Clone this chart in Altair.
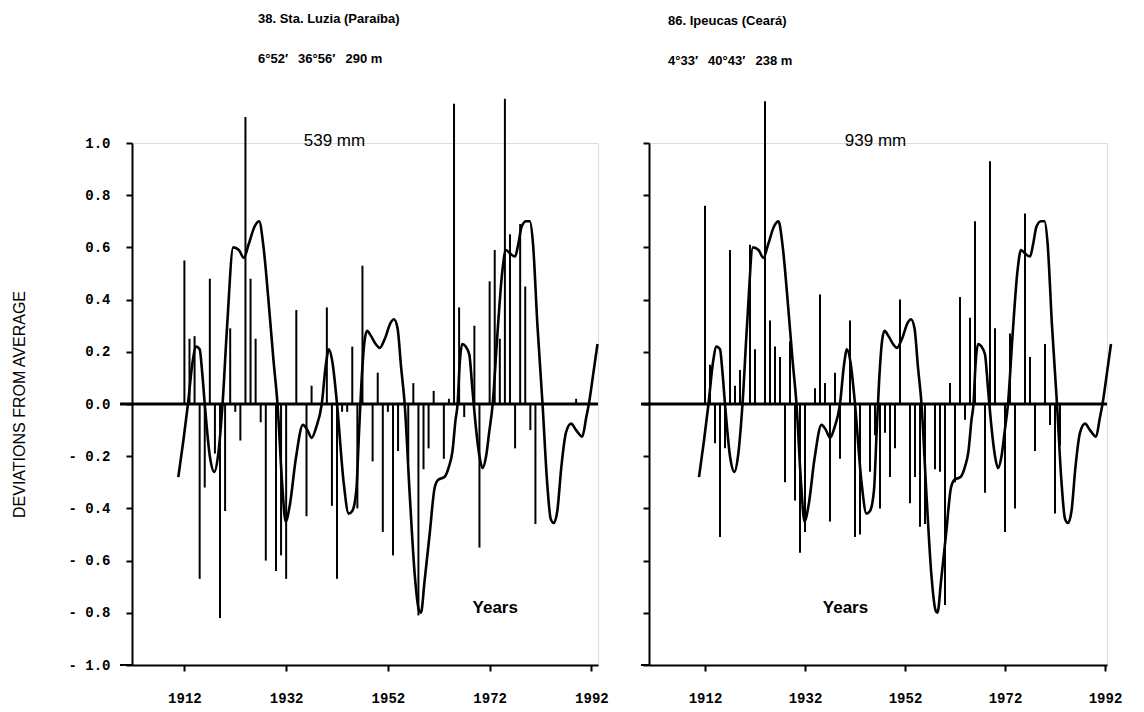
import altair as alt
import pandas as pd

# ---------------- data ----------------
luzia_years = [1912, 1913, 1914, 1915, 1916, 1917, 1918, 1919, 1920, 1921, 1922, 1923,
               1924, 1925, 1926, 1927, 1928, 1930, 1931, 1932, 1934, 1936, 1937, 1940,
               1941, 1942, 1943, 1944, 1945, 1946, 1947, 1949, 1950, 1951, 1952, 1953,
               1954, 1956, 1957, 1958, 1959, 1960, 1961, 1963, 1964, 1965, 1966, 1967,
               1969, 1970, 1972, 1973, 1974, 1975, 1976, 1977, 1978, 1979, 1980, 1981, 1989]
luzia_values = [0.55, 0.25, 0.26, -0.67, -0.32, 0.48, -0.19, -0.82, -0.41, 0.29, -0.03, -0.14,
                1.10, 0.48, 0.25, -0.07, -0.60, -0.64, -0.58, -0.67, 0.36, -0.43, 0.07, 0.37,
                -0.39, -0.67, -0.03, -0.03, 0.22, -0.40, 0.53, -0.22, 0.12, -0.49, -0.03, -0.58,
                -0.18, -0.22, 0.08, -0.81, -0.25, -0.17, 0.05, -0.21, 0.02, 1.15, 0.37, -0.05,
                0.30, -0.55, 0.47, 0.59, 0.25, 1.17, 0.65, -0.17, 0.69, 0.45, -0.10, -0.46, 0.02]

ipeucas_years = [1912, 1913, 1914, 1915, 1916, 1917, 1918, 1919, 1921, 1922, 1924, 1925,
                 1926, 1927, 1928, 1929, 1930, 1931, 1932, 1934, 1935, 1936, 1937, 1938,
                 1939, 1941, 1942, 1943, 1945, 1946, 1947, 1948, 1949, 1950, 1951, 1953,
                 1954, 1955, 1956, 1958, 1959, 1960, 1961, 1962, 1963, 1964, 1965, 1966,
                 1968, 1969, 1970, 1972, 1973, 1974, 1976, 1977, 1978, 1980, 1981, 1982, 1983]
ipeucas_values = [0.76, 0.15, -0.15, -0.51, -0.17, 0.59, 0.07, 0.13, 0.61, 0.21, 1.16, 0.32,
                  0.22, 0.18, -0.30, 0.24, -0.37, -0.57, -0.49, 0.06, 0.42, 0.08, -0.45, 0.12,
                  -0.21, 0.32, -0.51, -0.50, -0.26, -0.12, -0.40, -0.11, -0.28, -0.17, 0.40, -0.38,
                  -0.28, -0.47, -0.46, -0.25, -0.26, -0.77, 0.08, -0.30, 0.41, -0.06, 0.33, 0.70,
                  -0.34, 0.93, 0.29, -0.49, 0.27, -0.40, 0.73, 0.18, -0.18, 0.23, -0.08, -0.42, -0.16]

# smoothed curve (same in both panels)
curve_years = [1910.8, 1911.8, 1912.7, 1913.6, 1914.3, 1915.0, 1915.5, 1916.0, 1917.0, 1917.9,
               1918.6, 1919.5, 1920.4, 1921.6, 1922.7, 1923.7, 1924.6, 1925.8, 1926.7, 1927.5,
               1928.6, 1929.5, 1930.3, 1931.2, 1931.9, 1932.7, 1933.9, 1935.3, 1936.2, 1937.0,
               1937.9, 1939.0, 1939.8, 1940.4, 1941.1, 1942.0, 1943.3, 1944.3, 1945.0, 1945.8,
               1946.3, 1946.8, 1947.4, 1947.9, 1948.7, 1949.6, 1950.4, 1951.4, 1952.5, 1953.2,
               1953.9, 1954.6, 1955.3, 1956.3, 1957.3, 1958.1, 1958.5, 1959.2, 1960.2, 1961.2,
               1961.9, 1963.1, 1964.0, 1964.7, 1965.3, 1965.7, 1966.1, 1966.6, 1967.3, 1968.0,
               1968.6, 1969.3, 1970.0, 1970.6, 1971.3, 1971.9, 1972.6, 1973.5, 1974.5, 1975.2,
               1976.1, 1977.0, 1977.6, 1978.3, 1979.2, 1979.9, 1980.5, 1981.4, 1982.4, 1983.3,
               1984.0, 1984.6, 1985.3, 1986.1, 1987.0, 1988.0, 1989.0, 1990.2, 1991.0, 1991.5,
               1992.4, 1993.2]
curve_values = [-0.28, -0.14, 0.0, 0.16, 0.22, 0.21, 0.12, 0.0, -0.20, -0.26,
                -0.20, 0.0, 0.30, 0.60, 0.59, 0.56, 0.61, 0.68, 0.70, 0.61,
                0.38, 0.17, 0.0, -0.30, -0.45, -0.39, -0.21, -0.08, -0.10, -0.13,
                -0.09, 0.0, 0.15, 0.21, 0.16, 0.0, -0.30, -0.42, -0.41, -0.33,
                -0.12, 0.08, 0.24, 0.28, 0.26, 0.23, 0.215, 0.25, 0.31, 0.325,
                0.29, 0.14, 0.0, -0.35, -0.66, -0.79, -0.80, -0.68, -0.50, -0.32,
                -0.29, -0.28, -0.24, -0.18, -0.06, 0.0, 0.15, 0.23, 0.22, 0.19,
                0.06, -0.09, -0.20, -0.245, -0.20, -0.11, 0.0, 0.26, 0.51, 0.59,
                0.575, 0.565, 0.61, 0.68, 0.70, 0.70, 0.62, 0.30, 0.0, -0.30,
                -0.44, -0.456, -0.41, -0.24, -0.11, -0.075, -0.10, -0.125, -0.05, 0.0,
                0.12, 0.23]

y_tick_values = [-1.0, -0.8, -0.6, -0.4, -0.2, 0.0, 0.2, 0.4, 0.6, 0.8, 1.0]
x_tick_values = [1912, 1932, 1952, 1972, 1992]

titles = ["38. Sta. Luzia (Paraíba)", "86. Ipeucas (Ceará)"]
subtitles = ["6°52′\u2002 36°56′\u2002 290 m", "4°33′\u2002 40°43′\u2002 238 m"]
mm_labels = ["539 mm", "939 mm"]
mm_label_years = [1941.5, 1946.1]
years_label_years = [1973.1, 1940.1]
mm_label_value = 1.006
years_label_value = -0.783

# ---------------- styling ----------------
MONO = "Liberation Mono"
SANS = "Liberation Sans"
NARROW = "Liberation Sans Narrow, Liberation Sans"
PLOT_H = 522


def panel(years, values, x_domain, width, title, subtitle, mm_text, mm_year,
          yrs_year, title_dx, left_ext, show_labels):
    xs = alt.Scale(domain=x_domain, nice=False, zero=False)
    ys = alt.Scale(domain=[-1, 1], nice=False, zero=False)
    x_axis = alt.Axis(values=x_tick_values, format="d", title=None, grid=False,
                      domainColor="black", domainWidth=2, tickColor="black",
                      tickWidth=2, tickSize=6, labelFont=MONO, labelFontWeight="bold",
                      labelFontSize=14, labelColor="black", labelPadding=20)
    if show_labels:
        y_axis = alt.Axis(values=y_tick_values, grid=False, domainColor="black",
                          domainWidth=2, tickColor="black", tickWidth=2, tickSize=6,
                          labelFont=MONO, labelFontWeight="bold", labelFontSize=14,
                          labelColor="black", labelPadding=16,
                          labelExpr="datum.value < -0.001 ? '- ' + format(-datum.value, '.1f') : format(abs(datum.value), '.1f')",
                          title="DEVIATIONS FROM AVERAGE", titleFont=SANS,
                          titleFontSize=16, titleFontWeight="normal", titleColor="black",
                          titleAngle=-90, titleX=-113, titleY=PLOT_H / 2,
                          titleAlign="center", titleBaseline="middle")
    else:
        y_axis = alt.Axis(values=y_tick_values, grid=False, domainColor="black",
                          domainWidth=2, tickColor="black", tickWidth=2, tickSize=6,
                          labels=False, title=None)

    X = alt.X("year:Q", scale=xs, axis=x_axis)
    Y = alt.Y("value:Q", scale=ys, axis=y_axis)

    bars_df = pd.DataFrame({"year": years, "value": values})
    curve_df = pd.DataFrame({"year": curve_years, "value": curve_values})
    zero_df = pd.DataFrame({"value": [0.0]})
    bottom_df = pd.DataFrame({"value": [-1.0]})
    ann_df = pd.DataFrame({"year": [mm_year, yrs_year],
                           "value": [mm_label_value, years_label_value],
                           "label": [mm_text, "Years"]})

    zero_line = alt.Chart(zero_df).mark_rule(color="black", strokeWidth=3).encode(
        y=Y, x=alt.value(left_ext), x2=alt.value(width))
    bottom_ext = alt.Chart(bottom_df).mark_rule(color="black", strokeWidth=2).encode(
        y=Y, x=alt.value(left_ext), x2=alt.value(0))
    bars = alt.Chart(bars_df).mark_rule(color="black", strokeWidth=2, clip=False).encode(
        x=X, y=Y, y2=alt.datum(0))
    curve = alt.Chart(curve_df).mark_line(color="black", strokeWidth=2.6,
                                          interpolate="monotone", clip=False).encode(
        x=X, y=Y, order="year:Q")
    mm = alt.Chart(ann_df.iloc[[0]]).mark_text(font=SANS, fontSize=17, color="black",
                                               align="center", baseline="middle").encode(
        x=X, y=Y, text="label:N")
    yl = alt.Chart(ann_df.iloc[[1]]).mark_text(font=SANS, fontSize=17, fontWeight="bold",
                                               color="black", align="center",
                                               baseline="middle").encode(
        x=X, y=Y, text="label:N")

    return alt.layer(bars, zero_line, bottom_ext, curve, mm, yl).properties(
        width=width, height=PLOT_H,
        title=alt.TitleParams(text=title, subtitle=subtitle, anchor="start",
                              frame="group", dx=title_dx, offset=32, font=NARROW,
                              fontSize=13, fontWeight="bold", color="black",
                              subtitleFont=NARROW, subtitleFontSize=13,
                              subtitleFontWeight="bold", subtitleColor="black",
                              subtitlePadding=27))


left = panel(luzia_years, luzia_values, [1901.7, 1993.3], 466, titles[0], subtitles[0],
             mm_labels[0], mm_label_years[0], years_label_years[0], 126, -12, True)
right = panel(ipeucas_years, ipeucas_values, [1900.8, 1992.4], 458, titles[1], subtitles[1],
              mm_labels[1], mm_label_years[1], years_label_years[1], 19, -8, False)

chart = alt.hconcat(left, right, spacing=30).properties(
    padding={"left": 2, "top": 4, "right": 5, "bottom": 0}
).configure_view(stroke=None).configure(background="white")

chart.save("out.html", embed_options={"renderer": "svg", "actions": False})
